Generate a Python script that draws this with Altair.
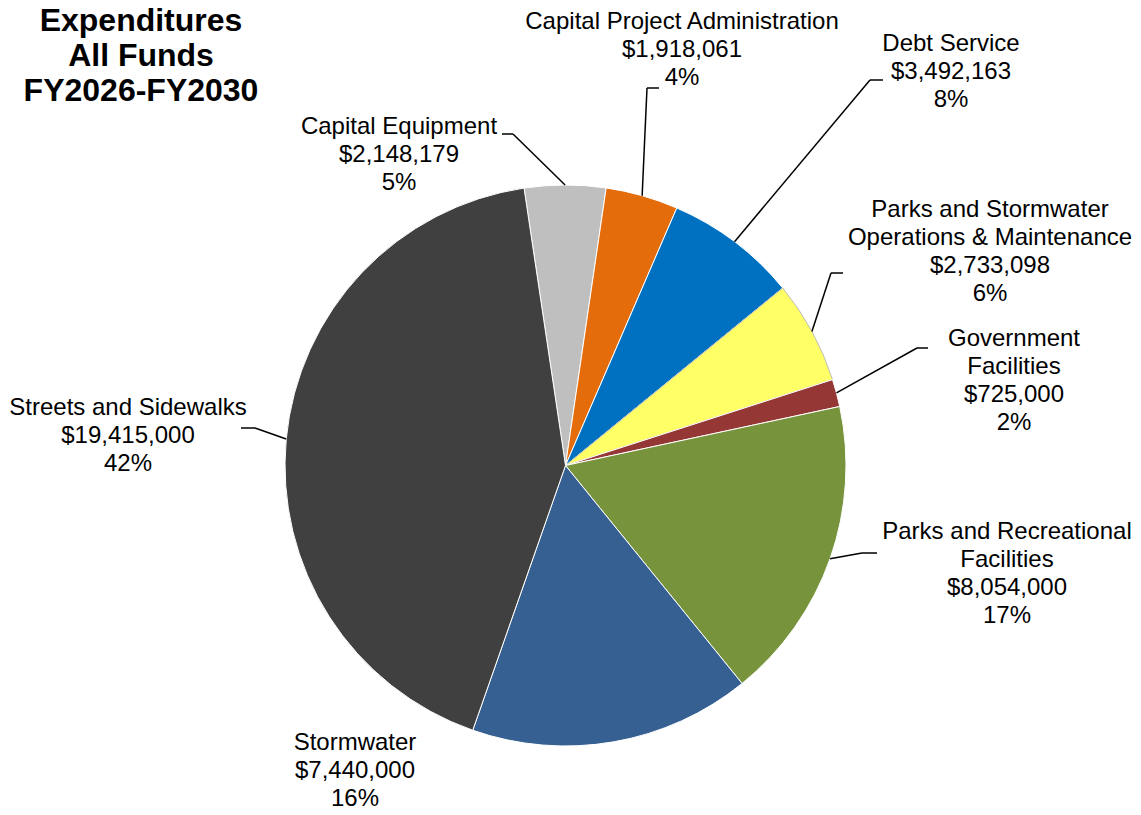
import math
import altair as alt
import pandas as pd

# ---------------- data ----------------
categories = [
    "Capital Equipment",
    "Capital Project Administration",
    "Debt Service",
    "Parks and Stormwater Operations & Maintenance",
    "Government Facilities",
    "Parks and Recreational Facilities",
    "Stormwater",
    "Streets and Sidewalks",
]
values = [2148179, 1918061, 3492163, 2733098, 725000, 8054000, 7440000, 19415000]
percent_labels = ["5%", "4%", "8%", "6%", "2%", "17%", "16%", "42%"]
name_lines = [
    ["Capital Equipment"],
    ["Capital Project Administration"],
    ["Debt Service"],
    ["Parks and Stormwater", "Operations & Maintenance"],
    ["Government", "Facilities"],
    ["Parks and Recreational", "Facilities"],
    ["Stormwater"],
    ["Streets and Sidewalks"],
]
title_lines = ["Expenditures", "All Funds", "FY2026-FY2030"]

# ---------------- style / layout ----------------
colors = ["#BFBFBF", "#E46C0A", "#0070C0", "#FFFF66", "#953735", "#77933C", "#376092", "#404040"]
strokes = ["white", "white", "white", "#BDBDBD", "white", "white", "white", "white"]
FONT = "Liberation Sans"
M = 8  # page margin
W, H = 1125, 799
CX, CY, R = 565.5 - M, 465.5 - M, 280.5
START = math.radians(-8.5)

# label first-line centres and leader elbows (page coordinates)
label_pos = [(399, 127), (682, 22), (951, 44), (990, 210), (1014, 339),
             (1007, 532), (355, 743), (128, 408)]
elbows = [((513, 134), (502, 134)), ((647, 88), (659, 88)), ((870, 80), (883, 80)),
          ((831, 273), (843, 273)), ((917, 348), (928, 348)), ((862, 553), (877, 553)),
          None, ((255, 428), (241, 428))]

total = sum(values)

pie_df = pd.DataFrame({"cat": categories, "value": values, "idx": list(range(len(values)))})

pie = alt.Chart(pie_df).mark_arc(outerRadius=R, strokeWidth=1).encode(
    theta=alt.Theta("value:Q", stack=True,
                    scale=alt.Scale(domain=[0, total], range=[START, START + 2 * math.pi], nice=False)),
    order=alt.Order("idx:Q"),
    color=alt.Color("cat:N", scale=alt.Scale(domain=categories, range=colors), legend=None),
    stroke=alt.Stroke("cat:N", scale=alt.Scale(domain=categories, range=strokes), legend=None),
    x=alt.value(CX),
    y=alt.value(CY),
)

# labels
lab_rows = []
for i, c in enumerate(categories):
    txt = "\n".join(name_lines[i] + [f"${values[i]:,}", percent_labels[i]])
    lab_rows.append({"t": txt, "x": label_pos[i][0] - M, "y": label_pos[i][1] - M})
lab_df = pd.DataFrame(lab_rows)
labels = alt.Chart(lab_df).mark_text(
    font=FONT, fontSize=24, lineHeight=28, lineBreak="\n", align="center",
    baseline="middle", color="black"
).encode(x=alt.X("x:Q", scale=None), y=alt.Y("y:Q", scale=None), text="t:N")

# leader lines: from slice edge at its mid angle to elbow and tick end
seg_rows = []
cum = 0
for i, v in enumerate(values):
    mid = START + 2 * math.pi * (cum + v / 2) / total
    cum += v
    if elbows[i] is None:
        continue
    ex, ey = CX + R * math.sin(mid), CY - R * math.cos(mid)
    (bx, by), (tx, ty) = elbows[i]
    seg_rows.append({"x": ex, "y": ey, "x2": bx - M, "y2": by - M})
    seg_rows.append({"x": bx - M, "y": by - M, "x2": tx - M, "y2": ty - M})
seg_df = pd.DataFrame(seg_rows)
leaders = alt.Chart(seg_df).mark_rule(color="black", strokeWidth=1.5).encode(
    x=alt.X("x:Q", scale=None), y=alt.Y("y:Q", scale=None),
    x2="x2:Q", y2="y2:Q",
)

title_df = pd.DataFrame({"t": ["\n".join(title_lines)], "x": [141 - M], "y": [21 - M]})
title = alt.Chart(title_df).mark_text(
    font=FONT, fontSize=32, fontWeight="bold", lineHeight=35, lineBreak="\n",
    align="center", baseline="middle", color="black"
).encode(x=alt.X("x:Q", scale=None), y=alt.Y("y:Q", scale=None), text="t:N")

chart = alt.layer(pie, leaders, labels, title).properties(
    width=W, height=H, padding=0, autosize=alt.AutoSizeParams(type="none"),
    background="white",
).configure_view(stroke=None)

chart.save("out.html", embed_options={"renderer": "svg", "actions": False})
